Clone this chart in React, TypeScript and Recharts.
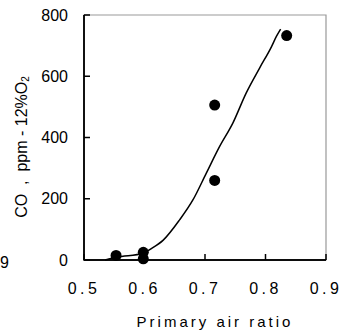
import React from "react";
import {
  ComposedChart,
  Scatter,
  XAxis,
  YAxis,
  ZAxis,
  Label,
  ReferenceArea,
} from "recharts";

// measured points
const airRatio = [0.553, 0.598, 0.598, 0.716, 0.716, 0.835];
const coValues = [15, 25, 4, 506, 260, 733];

// fitted curve
const fitRatio = [0.535, 0.554, 0.598, 0.612, 0.631, 0.658, 0.68, 0.702, 0.724, 0.746, 0.768, 0.79, 0.81, 0.818, 0.825];
const fitCO = [0, 9, 22, 38, 65, 131, 196, 283, 370, 447, 545, 626, 697, 730, 754];

const xTicks = [0.5, 0.6, 0.7, 0.8, 0.9];
const yTicks = [0, 200, 400, 600, 800];

const points = airRatio.map((x, i) => ({ x, y: coValues[i] }));
const curve = fitRatio.map((x, i) => ({ x, y: fitCO[i] }));

const font = "'Liberation Sans', Arial, sans-serif";
// default tickSize (6) + tickMargin (2) between axis and the tick props position
const OFFSET = 8;
const TICK_LEN = 6;

const XTick = (props: any) => {
  const { x, y, payload } = props;
  const axisY = y - OFFSET;
  return (
    <g>
      <path d={`M${x},${axisY}V${axisY - TICK_LEN}`} stroke="#000" strokeWidth={1.5} fill="none" />
      <text x={x} y={axisY + 23} dy="0.71em" textAnchor="middle" fontFamily={font} fontSize={16} letterSpacing={3.5} fill="#000">
        {Number(payload.value).toFixed(1)}
      </text>
    </g>
  );
};

const YTick = (props: any) => {
  const { x, y, payload } = props;
  const axisX = x + OFFSET;
  return (
    <g>
      <path d={`M${axisX},${y}H${axisX + TICK_LEN}`} stroke="#000" strokeWidth={1.5} fill="none" />
      <text x={axisX - 16} y={y} dy="0.355em" textAnchor="end" fontFamily={font} fontSize={16} fill="#000">
        {payload.value}
      </text>
    </g>
  );
};

const YLabel = () => (
  <g>
    <text
      x={21}
      y={147}
      transform="rotate(-90 21 147)"
      textAnchor="middle"
      dominantBaseline="central"
      fontFamily={font}
      fontSize={16}
      fill="#000"
      style={{ whiteSpace: "pre" }}
    >
      {"CO  ,  ppm - 12%O"}
      <tspan fontSize={10} dy={4}>2</tspan>
    </text>
    <text x={0} y={268} textAnchor="start" fontFamily={font} fontSize={16} fill="#000">
      9
    </text>
  </g>
);

const Dot = (props: any) => <circle cx={props.cx} cy={props.cy} r={5.5} fill="#000" />;
const NoDot = () => <g />;

const App = () => {
  return (
    <div style={{ position: "absolute", left: 0, top: 0, width: 341, height: 334 }}>
      <ComposedChart
        width={341}
        height={334}
        margin={{ top: 15, right: 15, bottom: 0, left: 0 }}
      >
        <XAxis
          type="number"
          dataKey="x"
          domain={[0.5, 0.9]}
          ticks={xTicks}
          height={74}
          stroke="#000"
          tickLine={false}
          axisLine={{ stroke: "#000", strokeWidth: 1.5 }}
          tick={<XTick />}
        >
          <Label
            value="Primary air ratio"
            position="insideBottom"
            offset={7}
            dx={10}
            style={{ fill: "#000", fontSize: 15, fontFamily: font, letterSpacing: 3 }}
          />
        </XAxis>
        <YAxis
          type="number"
          dataKey="y"
          domain={[0, 800]}
          ticks={yTicks}
          width={84}
          stroke="#000"
          tickLine={false}
          axisLine={{ stroke: "#000", strokeWidth: 1.5 }}
          tick={<YTick />}
        >
          <Label content={<YLabel />} />
        </YAxis>
        <ZAxis range={[95, 95]} />
        <ReferenceArea
          x1={0.5}
          x2={0.9}
          y1={0}
          y2={800}
          fill="#fff"
          fillOpacity={0}
          stroke="#999"
          strokeWidth={1.2}
          ifOverflow="visible"
        />
        {/* black left and bottom edges: the dash pattern skips top and right */}
        <ReferenceArea
          x1={0.5}
          x2={0.9}
          y1={0}
          y2={800}
          fill="#fff"
          fillOpacity={0}
          stroke="#000"
          strokeWidth={1.3}
          strokeDasharray="0 487 490"
          ifOverflow="visible"
        />
        <Scatter
          data={curve}
          line={{ stroke: "#000", strokeWidth: 1.5 }}
          lineJointType="monotoneX"
          shape={NoDot}
          isAnimationActive={false}
        />
        <Scatter data={points} shape={Dot} fill="#000" isAnimationActive={false} />
      </ComposedChart>
    </div>
  );
};

export default App;
